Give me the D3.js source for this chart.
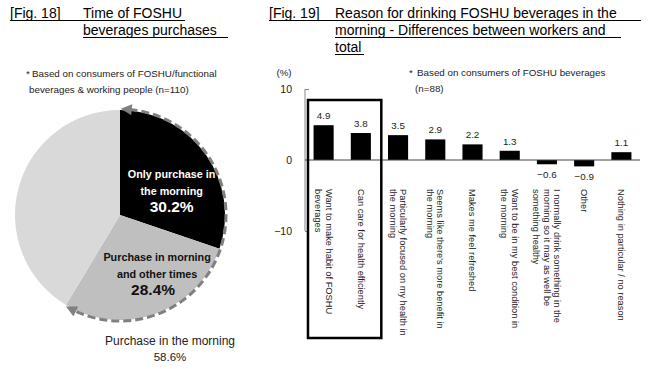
<!DOCTYPE html>
<html><head><meta charset="utf-8">
<script src="https://cdn.jsdelivr.net/npm/d3@7"></script>
<style>
html,body{margin:0;padding:0;background:#fff;}
svg{display:block;font-family:"Liberation Sans",Arial,sans-serif;}
</style></head>
<body>
<svg id="c" width="649" height="369"></svg>
<script>
// ---------- DATA ----------
const pieLabels = ["Only purchase in|the morning", "Purchase in morning|and other times", "Other times"];
const pieValues = [30.2, 28.4, 41.4];
const morningTotalLabel = "Purchase in the morning";
const morningTotalValue = 58.6;

const barCategories = [
  "Want to make habit of FOSHU|beverages",
  "Can care for health efficiently",
  "Particularly focused on my health in|the morning",
  "Seems like there's more benefit in|the morning",
  "Makes me feel refreshed",
  "Want to be in my best condition in|the morning",
  "I normally drink something in the|morning so it may as well be|something healthy",
  "Other",
  "Nothing in particular / no reason"
];
const barValues = [4.9, 3.8, 3.5, 2.9, 2.2, 1.3, -0.6, -0.9, 1.1];
const yTicks = [10, 0, -10];
const highlighted = [0, 1];

// ---------- DRAW ----------
const svg = d3.select("#c");

// Titles
function title(x1, x2, lines, underlineEnds) {
  const g = svg.append("g").attr("font-size", 14).attr("fill", "#000");
  g.append("text").attr("x", x1).attr("y", 18).text(lines[0][0]);
  lines.forEach((ln, i) => {
    const y = 18 + i * 17;
    g.append("text").attr("x", x2).attr("y", y).text(ln[1]);
  });
  lines.forEach((ln, i) => {
    const y = 18 + i * 17 + 2.5;
    const start = i === 0 ? x1 : x2;
    g.append("line").attr("x1", start).attr("x2", underlineEnds[i]).attr("y1", y).attr("y2", y)
      .attr("stroke", "#000").attr("stroke-width", 1);
  });
}
title(10, 83, [["[Fig. 18]", "Time of FOSHU"], ["", "beverages purchases"]], [185, 228]);
title(269, 335, [["[Fig. 19]", "Reason for drinking FOSHU beverages in the"], ["", "morning - Differences between workers and"], ["", "total"]], [641, 621, 364]);

// Pie footnote
const fn1 = svg.append("g").attr("font-size", 9.8).attr("fill", "#222");
fn1.append("text").attr("x", 26).attr("y", 77).text("*");
fn1.append("text").attr("x", 32).attr("y", 77).text("Based on consumers of FOSHU/functional");
fn1.append("text").attr("x", 29).attr("y", 93).text("beverages & working people (n=110)");

// ---------- PIE ----------
const cx = 120, cy = 215, R = 105;
const pieColors = ["#000000", "#bfbfbf", "#d9d9d9"];
const pie = d3.pie().sort(null).value(d => d).startAngle(0).endAngle(2 * Math.PI);
const arcs = pie(pieValues);
const arcGen = d3.arc().innerRadius(0).outerRadius(R);
const pg = svg.append("g").attr("transform", `translate(${cx},${cy})`);
pg.selectAll("path.slice").data(arcs).join("path").attr("class", "slice")
  .attr("d", arcGen).attr("fill", (d, i) => pieColors[i]);

// dashed arrow arc around the morning slices
const defs = svg.append("defs");
defs.append("marker").attr("id", "ah").attr("viewBox", "0 0 10 10")
  .attr("refX", 2).attr("refY", 5).attr("markerWidth", 13).attr("markerHeight", 11)
  .attr("markerUnits", "userSpaceOnUse").attr("orient", "auto-start-reverse")
  .append("path").attr("d", "M0,0 L10,5 L0,10 Z").attr("fill", "#808080");
const morningEnd = (pieValues[0] + pieValues[1]) / d3.sum(pieValues) * 2 * Math.PI;
const p = d3.path();
p.arc(0, 0, R + 1, -Math.PI / 2 + 0.09, -Math.PI / 2 + morningEnd - 0.09, false);
pg.append("path").attr("d", p.toString()).attr("fill", "none")
  .attr("stroke", "#808080").attr("stroke-width", 3).attr("stroke-dasharray", "8,4")
  .attr("marker-start", "url(#ah)").attr("marker-end", "url(#ah)");

// slice labels
const labelShift = [[9, 10], [19, 13]];
const labelColor = ["#fff", "#111"];
arcs.slice(0, 2).forEach((a, i) => {
  const c = arcGen.centroid(a);
  const x = c[0] + labelShift[i][0], y = c[1] + labelShift[i][1];
  const lines = pieLabels[i].split("|");
  const t = pg.append("g").attr("fill", labelColor[i]).attr("font-weight", "bold").attr("text-anchor", "middle");
  lines.forEach((ln, j) => {
    t.append("text").attr("x", x).attr("y", y - 16 + j * 17).attr("font-size", 10.8).text(ln);
  });
  t.append("text").attr("x", x - (i ? 4 : 0)).attr("y", y + 18).attr("font-size", 15.5)
    .text(d3.format(".1f")(a.data) + "%");
});
svg.append("text").attr("x", 170).attr("y", 345).attr("text-anchor", "middle")
  .attr("font-size", 12).attr("fill", "#222").text(morningTotalLabel);
svg.append("text").attr("x", 170).attr("y", 361).attr("text-anchor", "middle")
  .attr("font-size", 11.5).attr("fill", "#222").text(d3.format(".1f")(morningTotalValue) + "%");

// ---------- BAR ----------
const x = d3.scaleBand().domain(barCategories).range([305, 640]).paddingInner(0.46).paddingOuter(0.23);
const y = d3.scaleLinear().domain([-10, 10]).range([231, 89]);
const bg = svg.append("g");

// notes
svg.append("text").attr("x", 284).attr("y", 76).attr("text-anchor", "middle").attr("font-size", 9.8).attr("fill", "#222").text("(%)");
svg.append("text").attr("x", 409).attr("y", 76).attr("font-size", 9.8).attr("fill", "#222").text("*");
svg.append("text").attr("x", 417).attr("y", 76).attr("font-size", 9.8).attr("fill", "#222").text("Based on consumers of FOSHU beverages");
svg.append("text").attr("x", 415).attr("y", 92).attr("font-size", 9.8).attr("fill", "#222").text("(n=88)");

// y axis
const yAxis = d3.axisLeft(y).tickValues(yTicks).tickSize(-4).tickPadding(13).tickFormat(d3.format("d"));
const ya = bg.append("g").attr("transform", "translate(305,0)").call(yAxis);
ya.select(".domain").remove();
ya.selectAll(".tick line").attr("stroke", "#888").filter(d => d === 0).remove();
ya.selectAll(".tick text").attr("font-size", 10.5).attr("fill", "#222").attr("font-family", "Liberation Sans, Arial, sans-serif");
bg.append("line").attr("x1", 305).attr("x2", 305).attr("y1", y(10)).attr("y2", y(-10)).attr("stroke", "#888");

// bars
bg.selectAll("rect.bar").data(barValues).join("rect").attr("class", "bar")
  .attr("x", (d, i) => x(barCategories[i])).attr("width", x.bandwidth())
  .attr("y", d => y(Math.max(0, d))).attr("height", d => Math.abs(y(d) - y(0)))
  .attr("fill", "#000");

// zero line
bg.append("line").attr("x1", 305).attr("x2", 640).attr("y1", y(0)).attr("y2", y(0)).attr("stroke", "#444").attr("stroke-width", 1);

// value labels
bg.selectAll("text.val").data(barValues).join("text").attr("class", "val")
  .attr("x", (d, i) => x(barCategories[i]) + x.bandwidth() / 2)
  .attr("y", d => d >= 0 ? y(d) - 6 : y(d) + 14)
  .attr("text-anchor", "middle").attr("font-size", 9.8).attr("fill", "#222")
  .text(d => d3.format(".1f")(d));

// category labels (rotated)
const lh = 10.4;
barCategories.forEach((cat, i) => {
  const lines = cat.split("|");
  const n = lines.length;
  const cxb = x(cat) + x.bandwidth() / 2;
  const t = bg.append("text").attr("transform", `translate(${cxb},189) rotate(90)`)
    .attr("font-size", 9.3).attr("fill", "#222");
  const v0 = 3.3 - (n - 1) * lh / 2;
  lines.forEach((ln, j) => {
    t.append("tspan").attr("x", 0).attr("y", v0 + j * lh).text(ln);
  });
});

// highlight box
const step = x.step();
const hx0 = x(barCategories[highlighted[0]]) - step * 0.15;
const hx1 = x(barCategories[highlighted[highlighted.length - 1]]) + x.bandwidth() + step * 0.28;
bg.append("rect").attr("x", hx0).attr("y", y(10) + 11).attr("width", hx1 - hx0).attr("height", 338 - (y(10) + 11))
  .attr("fill", "none").attr("stroke", "#000").attr("stroke-width", 2.5);
</script>
</body></html>
